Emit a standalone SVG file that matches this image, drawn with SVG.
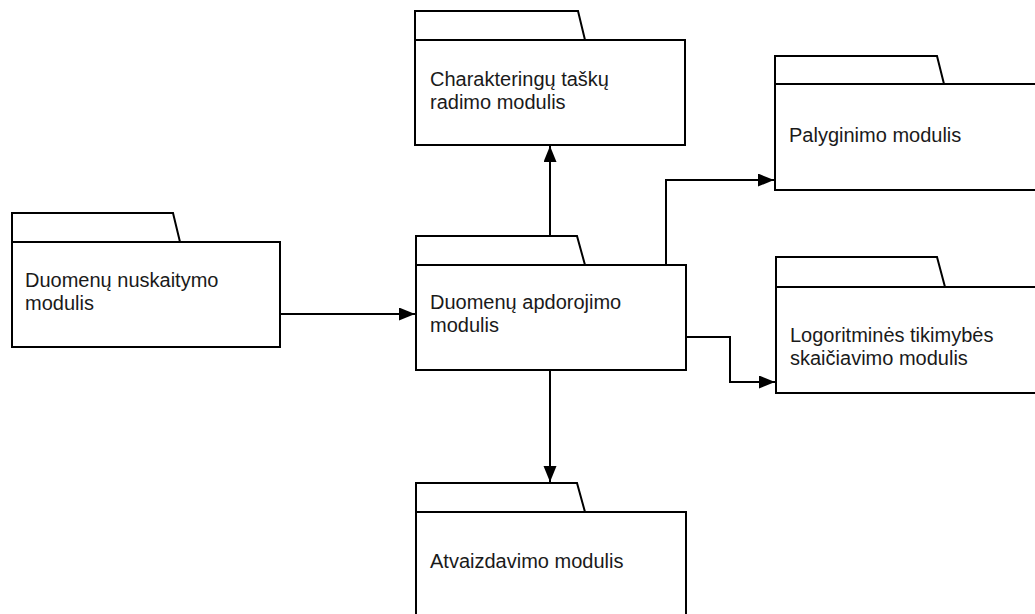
<svg xmlns="http://www.w3.org/2000/svg" width="1035" height="614" viewBox="0 0 1035 614">
<style>
.shape{fill:#ffffff;stroke:#000000;stroke-width:2;stroke-linejoin:miter}
.lbl{font-family:"Liberation Sans",Arial,sans-serif;font-size:20px;fill:#1a1a1a}
.conn{fill:none;stroke:#000000;stroke-width:2}
</style>
<defs>
<marker id="arr" markerUnits="userSpaceOnUse" markerWidth="17" markerHeight="14" refX="16" refY="6.5" orient="auto">
<path d="M0,0 L16,6.5 L0,13 Z" fill="#000000"/>
</marker>
</defs>
<rect width="1035" height="614" fill="#ffffff"/>
<g id="node-charakteringu">
<path class="shape" d="M415,40 L415,11 L578,11 L585,40 Z"/>
<rect class="shape" x="415" y="40" width="270" height="105"/>
<text class="lbl" x="430" y="86">Charakteringų taškų</text>
<text class="lbl" x="430" y="109">radimo modulis</text>
</g>
<g id="node-nuskaitymo">
<path class="shape" d="M12,242 L12,213 L173,213 L180,242 Z"/>
<rect class="shape" x="12" y="242" width="268" height="105"/>
<text class="lbl" x="25" y="287">Duomenų nuskaitymo</text>
<text class="lbl" x="25" y="310">modulis</text>
</g>
<g id="node-apdorojimo">
<path class="shape" d="M416,265 L416,236 L577,236 L585,265 Z"/>
<rect class="shape" x="416" y="265" width="270" height="105"/>
<text class="lbl" x="430" y="309">Duomenų apdorojimo</text>
<text class="lbl" x="430" y="332">modulis</text>
</g>
<g id="node-palyginimo">
<path class="shape" d="M775,84 L775,56 L937,56 L944,84 Z"/>
<rect class="shape" x="775" y="84" width="270" height="106"/>
<text class="lbl" x="789" y="142">Palyginimo modulis</text>
</g>
<g id="node-logoritmines">
<path class="shape" d="M776,287 L776,257 L937,257 L945,287 Z"/>
<rect class="shape" x="776" y="287" width="270" height="106"/>
<text class="lbl" x="790" y="342">Logoritminės tikimybės</text>
<text class="lbl" x="790" y="365">skaičiavimo modulis</text>
</g>
<g id="node-atvaizdavimo">
<path class="shape" d="M416,512 L416,483 L577,483 L585,512 Z"/>
<rect class="shape" x="416" y="512" width="270" height="110"/>
<text class="lbl" x="430" y="568">Atvaizdavimo modulis</text>
</g>
<g id="connectors">
<path class="conn" d="M280,314 L415,314" marker-end="url(#arr)"/>
<path class="conn" d="M550,236 L550,146" marker-end="url(#arr)"/>
<path class="conn" d="M666,265 L666,180 L774,180" marker-end="url(#arr)"/>
<path class="conn" d="M686,337 L730,337 L730,382 L775,382" marker-end="url(#arr)"/>
<path class="conn" d="M550,370 L550,482" marker-end="url(#arr)"/>
</g>
</svg>
